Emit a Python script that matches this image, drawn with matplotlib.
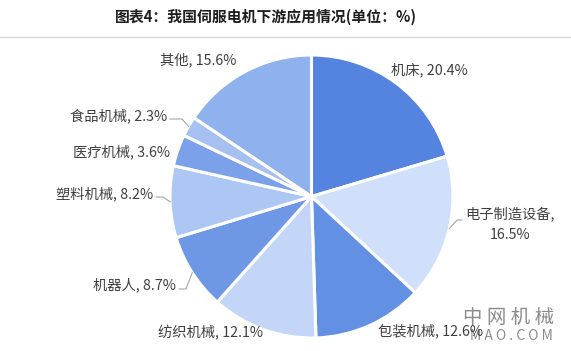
import numpy as np
import matplotlib.pyplot as plt

plt.rcParams['font.family'] = ['Noto Sans CJK SC', 'DejaVu Sans']

# Data
categories = ['机床', '电子制造设备', '包装机械', '纺织机械', '机器人',
              '塑料机械', '医疗机械', '食品机械', '其他']
shares = [20.4, 16.5, 12.6, 12.1, 8.7, 8.2, 3.6, 2.3, 15.6]
colors = ['#5483e0', '#d0e0fb', '#6290e3', '#c3d6f8', '#6e98e6',
          '#acc7f3', '#7aa1e9', '#a6c1f1', '#8fb1ee']

W, H = 571, 351
fig = plt.figure(figsize=(W / 100, H / 100), dpi=100)
ax = fig.add_axes([0, 0, 1, 1])
ax.set_xlim(0, W)
ax.set_ylim(H, 0)
ax.set_aspect('equal')
ax.axis('off')

cx, cy, r = 311.5, 196.5, 141.5
wedges, _ = ax.pie(shares, colors=colors, startangle=-90, counterclock=True,
                   radius=r, center=(cx, cy),
                   wedgeprops=dict(edgecolor='white', linewidth=2.2))
# y axis is inverted, so counterclock in data = clockwise on screen
ax.set_xlim(0, W)
ax.set_ylim(H, 0)

# Title and separator
fig.text(0.466, 0.951, '图表4：我国伺服电机下游应用情况(单位：%)', ha='center', va='center',
         fontsize=10.7, fontweight='bold', color='#1e1e1e')
ax.plot([0, W], [37, 37], color='#d9d9d9', lw=1, clip_on=False)

# Label layout: (x, y, ha, elbow point or None)
layout = {
    '机床': (391, 70, 'left', None),
    '其他': (198, 60, 'center', None),
    '食品机械': (167, 116, 'right', (182, 119)),
    '医疗机械': (170, 152, 'right', None),
    '塑料机械': (153, 194, 'right', (163, 197)),
    '机器人': (176, 285, 'right', (186, 289)),
    '纺织机械': (211, 333, 'center', None),
    '包装机械': (378, 331, 'left', None),
}
tc = '#404040'
fs = 10.3
for w, cat, val in zip(wedges, categories, shares):
    mid = np.deg2rad((w.theta1 + w.theta2) / 2)
    ex, ey = cx + r * np.cos(mid), cy + r * np.sin(mid)
    if cat == '电子制造设备':
        ax.text(465, 214, f'{cat},', ha='left', va='center', fontsize=fs, color=tc)
        ax.text(510, 235, f'{val}%', ha='center', va='center', fontsize=fs, color=tc)
        ax.plot([ex, 457, 462], [ey, 220, 220], color='#a6a6a6', lw=0.8)
        continue
    x, y, ha, elbow = layout[cat]
    ax.text(x, y, f'{cat}, {val}%', ha=ha, va='center', fontsize=fs, color=tc)
    if elbow is not None:
        ax.plot([ex, elbow[0], x + 3], [ey, elbow[1], elbow[1]], color='#a6a6a6', lw=0.8)

# Watermark
ax.text(509, 317, '中 网 机 械', ha='center', va='center', fontsize=14, color='#8c8c8c', zorder=0)
ax.text(553, 336, 'M A O . C O M', ha='right', va='center', fontsize=10, color='#8c8c8c', zorder=0)

fig.savefig('out.png', dpi=100)
